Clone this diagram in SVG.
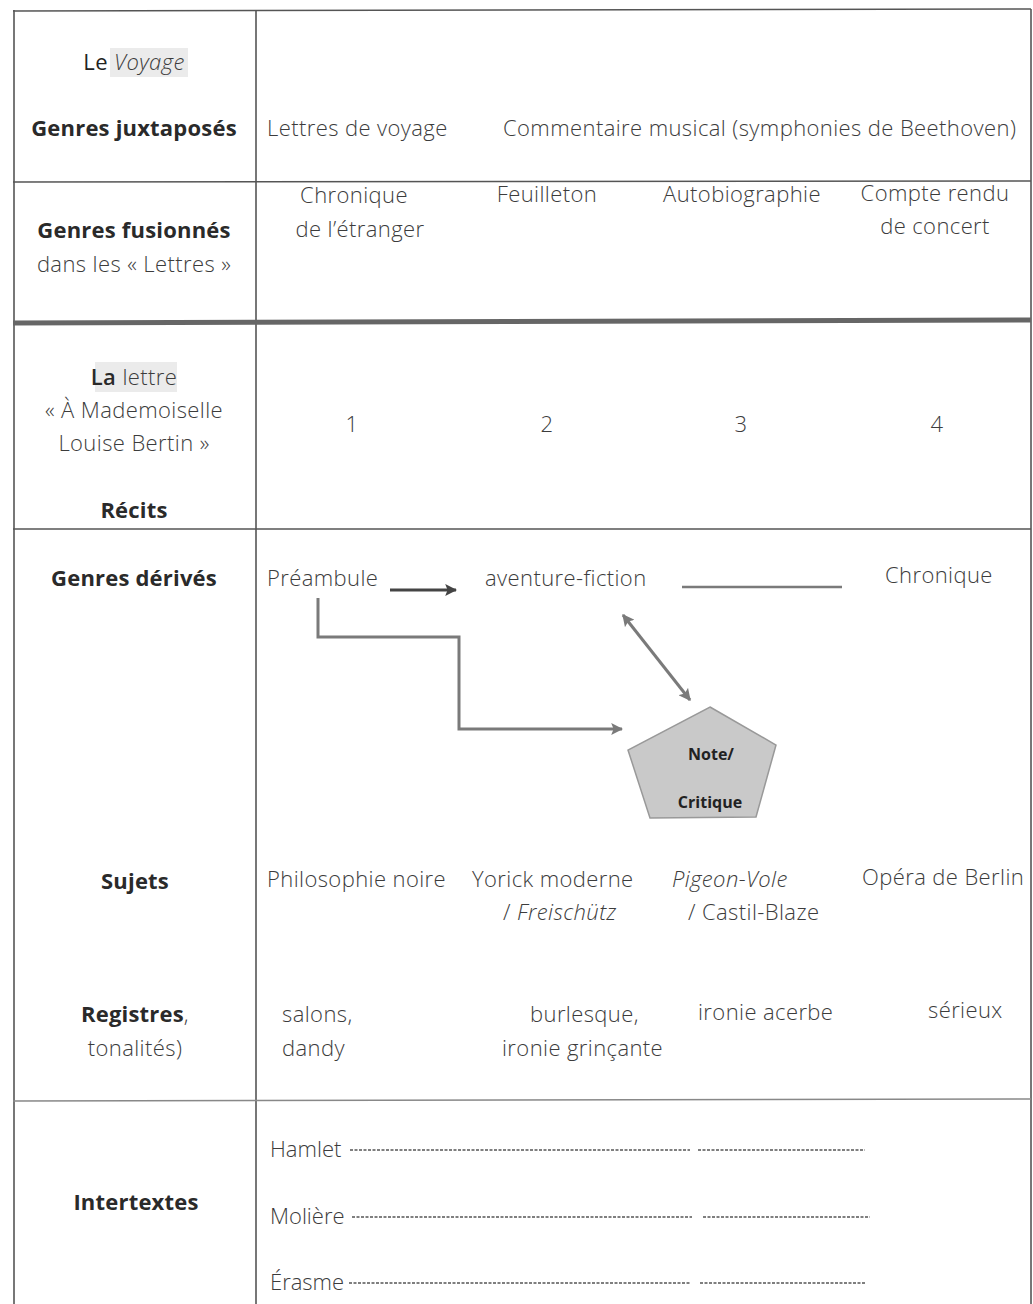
<svg xmlns="http://www.w3.org/2000/svg" width="1033" height="1304" viewBox="0 0 1033 1304">
<style>
  text{font-family:"Open Sans","Noto Sans","Liberation Sans",sans-serif;font-size:22px;fill:#3c3c3c;font-weight:300;letter-spacing:0.4px}
  .b{font-weight:700;fill:#2a2a2a;letter-spacing:0.2px}
  .c{text-anchor:middle}
  .i{font-style:italic}
  .grid{stroke:#555;stroke-width:1.6;fill:none}
  .conn{stroke:#7a7a7a;stroke-width:3;fill:none}
  .dash{stroke:#555;stroke-width:1.5;stroke-dasharray:3 1.5}
  .pt{font-family:"Open Sans","Liberation Sans",sans-serif;font-size:16px;font-weight:700;fill:#222;text-anchor:middle;letter-spacing:0}
</style>
<defs>
  <marker id="ah" viewBox="0 0 10 10" refX="9" refY="5" markerWidth="4" markerHeight="4" orient="auto-start-reverse">
    <path d="M0,0 L10,5 L0,10 L2,5 z" fill="#7a7a7a"/>
  </marker>
  <marker id="ahd" viewBox="0 0 10 10" refX="9" refY="5" markerWidth="4" markerHeight="4" orient="auto">
    <path d="M0,0 L10,5 L0,10 L2,5 z" fill="#444"/>
  </marker>
</defs>
<rect width="1033" height="1304" fill="#fff"/>

<g id="grid">
  <line class="grid" x1="13" y1="11" x2="1031" y2="9" stroke-width="2.5"/>
  <line class="grid" x1="14" y1="10" x2="14" y2="1304" stroke-width="2.5"/>
  <line class="grid" x1="1031" y1="9" x2="1031" y2="1304"/>
  <line class="grid" x1="256" y1="10" x2="256" y2="1304"/>
  <line class="grid" x1="13" y1="182" x2="1031" y2="181"/>
  <line x1="13" y1="323" x2="1031" y2="320" stroke="#666" stroke-width="5"/>
  <line class="grid" x1="13" y1="529" x2="1031" y2="529"/>
  <line x1="13" y1="1101" x2="1031" y2="1099" stroke="#888" stroke-width="1.6"/>
</g>

<g id="row-voyage">
  <rect x="110" y="48" width="78" height="29" fill="#ebebeb"/>
  <text x="134" y="70" class="c"><tspan style="font-weight:400;fill:#222">Le</tspan> <tspan class="i">Voyage</tspan></text>
  <text x="134" y="136" class="c b">Genres juxtaposés</text>
  <text x="267" y="136">Lettres de voyage</text>
  <text x="503" y="136">Commentaire musical (symphonies de Beethoven)</text>
</g>

<g id="row-fusionnes">
  <text x="134" y="238" class="c b">Genres fusionnés</text>
  <text x="134" y="272" class="c">dans les « Lettres »</text>
  <text x="354" y="203" class="c">Chronique</text>
  <text x="360" y="237" class="c">de l’étranger</text>
  <text x="547" y="202" class="c">Feuilleton</text>
  <text x="742" y="202" class="c">Autobiographie</text>
  <text x="935" y="201" class="c">Compte rendu</text>
  <text x="935" y="234" class="c">de concert</text>
</g>

<g id="row-lettre">
  <rect x="95" y="362" width="82" height="30" fill="#ebebeb"/>
  <text x="134" y="385" class="c"><tspan style="font-weight:600;fill:#2a2a2a">La</tspan> lettre</text>
  <text x="134" y="418" class="c">« À Mademoiselle</text>
  <text x="134" y="451" class="c">Louise Bertin »</text>
  <text x="134" y="518" class="c b">Récits</text>
  <text x="352" y="432" class="c">1</text>
  <text x="547" y="432" class="c">2</text>
  <text x="741" y="432" class="c">3</text>
  <text x="937" y="432" class="c">4</text>
</g>

<g id="row-genres-derives">
  <text x="134" y="586" class="c b">Genres dérivés</text>
  <text id="preambule" x="267" y="586">Préambule</text>
  <text id="aventure" x="485" y="586">aventure-fiction</text>
  <text id="chronique" x="885" y="583">Chronique</text>
</g>

<g id="note-critique">
  <polygon points="710,707 776,745 756,817 650,818 628,750" fill="#c9c9c9" stroke="#999" stroke-width="1.5"/>
  <text x="711" y="760" class="pt">Note/</text>
  <text x="710" y="808" class="pt">Critique</text>
</g>

<g id="connectors">
  <line x1="390" y1="590" x2="456" y2="590" stroke="#444" stroke-width="3" marker-end="url(#ahd)"/>
  <line x1="682" y1="587" x2="842" y2="587" stroke="#7a7a7a" stroke-width="2.5"/>
  <polyline class="conn" points="318,598 318,637 459,637 459,729 622,729" marker-end="url(#ah)"/>
  <line class="conn" x1="623" y1="615" x2="690" y2="700" marker-start="url(#ah)" marker-end="url(#ah)"/>
</g>

<g id="row-sujets">
  <text x="135" y="889" class="c b">Sujets</text>
  <text x="267" y="887">Philosophie noire</text>
  <text x="472" y="887">Yorick moderne</text>
  <text x="503" y="920">/ <tspan class="i">Freischütz</tspan></text>
  <text x="672" y="887" class="i">Pigeon-Vole</text>
  <text x="688" y="920">/ Castil-Blaze</text>
  <text x="862" y="885">Opéra de Berlin</text>
</g>

<g id="row-registres">
  <text x="135" y="1022" class="c"><tspan class="b">Registres</tspan>,</text>
  <text x="135" y="1056" class="c">tonalités)</text>
  <text x="282" y="1022">salons,</text>
  <text x="282" y="1056">dandy</text>
  <text x="530" y="1022">burlesque,</text>
  <text x="502" y="1056">ironie grinçante</text>
  <text x="698" y="1020">ironie acerbe</text>
  <text x="928" y="1018">sérieux</text>
</g>

<g id="row-intertextes">
  <text x="136" y="1210" class="c b">Intertextes</text>
  <text x="270" y="1157" style="letter-spacing:0">Hamlet</text>
  <line class="dash" x1="350" y1="1150" x2="690" y2="1150"/>
  <line class="dash" x1="698" y1="1150" x2="865" y2="1150"/>
  <text x="270" y="1224" style="letter-spacing:0">Molière</text>
  <line class="dash" x1="352" y1="1217" x2="692" y2="1217"/>
  <line class="dash" x1="703" y1="1217" x2="870" y2="1217"/>
  <text x="270" y="1290" style="letter-spacing:0">Érasme</text>
  <line class="dash" x1="349" y1="1283" x2="690" y2="1283"/>
  <line class="dash" x1="700" y1="1283" x2="866" y2="1283"/>
</g>
</svg>
